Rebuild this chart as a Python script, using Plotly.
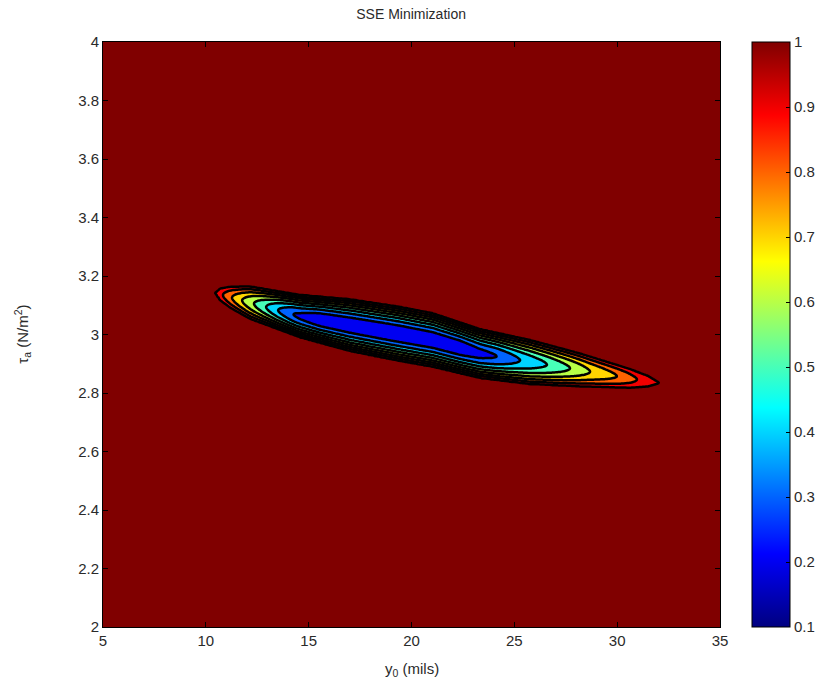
import numpy as np
import plotly.graph_objects as go

# ---- data ----
# centre line of the SSE valley (y0 in mils, tau in N/m^2)
center_y0 = [10.45, 12.15, 14.58, 17.01, 19.44, 21.05, 23.33, 25.76, 28.19, 30.62, 32.08]
center_tau = [3.142, 3.109, 3.063, 3.032, 3.002, 2.981, 2.935, 2.906, 2.879, 2.850, 2.834]
# half width (in tau) of the region where SSE < 1
width_y0 = [10.45, 10.7, 11.2, 12.15, 14.58, 17.01, 19.44, 21.05, 23.33, 25.76, 28.19, 30.62, 31.5, 32.08]
half_width = [0.0, 0.020, 0.036, 0.055, 0.072, 0.088, 0.092, 0.091, 0.083, 0.075, 0.056, 0.032, 0.018, 0.0]
# SSE along the valley floor
floor_y0 = [10.45, 10.83, 11.27, 11.76, 12.34, 12.93, 13.51, 14.24, 15.55, 17.5, 19.0, 20.5,
            22.36, 24.16, 25.28, 26.59, 27.71, 28.68, 29.99, 30.96, 32.08]
floor_sse = [1.0, 0.9, 0.8, 0.7, 0.6, 0.5, 0.4, 0.3, 0.22, 0.21, 0.205, 0.21,
             0.22, 0.3, 0.4, 0.5, 0.6, 0.7, 0.8, 0.9, 1.0]
# steepness of the valley walls (cross-section exponent)
wall_power = 1.8

x_ticks = [5, 10, 15, 20, 25, 30, 35]
y_ticks = [2, 2.2, 2.4, 2.6, 2.8, 3, 3.2, 3.4, 3.6, 3.8, 4]
y_text = ["2", "2.2", "2.4", "2.6", "2.8", "3", "3.2", "3.4", "3.6", "3.8", "4"]
cbar_ticks = [0.1, 0.2, 0.3, 0.4, 0.5, 0.6, 0.7, 0.8, 0.9, 1.0]
cbar_text = ["0.1", "0.2", "0.3", "0.4", "0.5", "0.6", "0.7", "0.8", "0.9", "1"]

# ---- build the SSE surface on a grid (clipped at 1) ----
gx = np.round(np.linspace(5, 35, 301), 3)
gy = np.round(np.linspace(2, 4, 501), 4)
X, Y = np.meshgrid(gx, gy)
c = np.interp(X, center_y0, center_tau)
w = np.interp(X, width_y0, half_width, left=0.0, right=0.0)
za = np.interp(X, floor_y0, floor_sse, left=1.0, right=1.0)
v = np.abs(Y - c)
safe_w = np.where(w > 1e-6, w, 1.0)
Z = np.where(w > 1e-6, za + (1 - za) * (v / safe_w) ** wall_power, 1.02)
Z = np.round(np.clip(Z, 0, 1.02), 4)

jet = [[0, "rgb(0,0,128)"], [0.125, "rgb(0,0,255)"], [0.375, "rgb(0,255,255)"],
       [0.625, "rgb(255,255,0)"], [0.875, "rgb(255,0,0)"], [1, "rgb(128,0,0)"]]

fig = go.Figure()
fig.add_trace(go.Contour(
    x=gx, y=gy, z=Z,
    colorscale=jet, showscale=False,
    contours=dict(start=0.2, end=1.0, size=0.1, coloring="fill", showlines=True),
    line=dict(color="black", width=2.5),
    hoverinfo="skip",
))
# continuous colour bar
fig.add_trace(go.Scatter(
    x=[20], y=[3], mode="markers",
    marker=dict(size=0.1, opacity=0, color=[0.5], cmin=0.1, cmax=1.0, colorscale=jet,
                showscale=True,
                colorbar=dict(x=1.052, xanchor="left", y=0.5, yanchor="middle",
                              len=1, lenmode="fraction", thickness=38, thicknessmode="pixels",
                              outlinecolor="black", outlinewidth=1,
                              tickvals=cbar_ticks, ticktext=cbar_text,
                              ticks="inside", ticklen=4, tickcolor="black",
                              tickfont=dict(family="Liberation Sans, Arial", size=15, color="#2a2a2a"),
                              xpad=0, ypad=0)),
    hoverinfo="skip", showlegend=False,
))

axis_font = dict(family="Liberation Sans, Arial", size=15, color="#2a2a2a")
fig.update_layout(
    width=839, height=696,
    margin=dict(l=103, r=119, t=42, b=69),
    paper_bgcolor="white", plot_bgcolor="white",
    showlegend=False,
    title=dict(text="SSE Minimization", x=0.49, xanchor="center", y=1 - 14 / 696, yanchor="middle",
               font=dict(family="Liberation Sans, Arial", size=14, color="#2a2a2a")),
    xaxis=dict(range=[5, 35], tickvals=x_ticks, ticktext=[str(t) for t in x_ticks],
               ticks="inside", ticklen=5, tickcolor="black", showgrid=False, zeroline=False,
               showline=True, linecolor="black", linewidth=1, mirror="ticks",
               tickfont=axis_font),
    yaxis=dict(range=[2, 4], tickvals=y_ticks, ticktext=y_text,
               ticks="inside", ticklen=5, tickcolor="black", showgrid=False, zeroline=False,
               showline=True, linecolor="black", linewidth=1, mirror="ticks",
               tickfont=axis_font),
    annotations=[
        dict(text="y<sub>0</sub> (mils)", xref="paper", yref="paper", x=0.5, y=-0.072,
             xanchor="center", yanchor="middle", showarrow=False, font=axis_font),
        dict(text="τ<sub>a</sub> (N/m<sup>2</sup>)", xref="paper", yref="paper", x=-0.131, y=0.5,
             xanchor="center", yanchor="middle", textangle=-90, showarrow=False, font=axis_font),
    ],
)

fig.write_html("out.html")
